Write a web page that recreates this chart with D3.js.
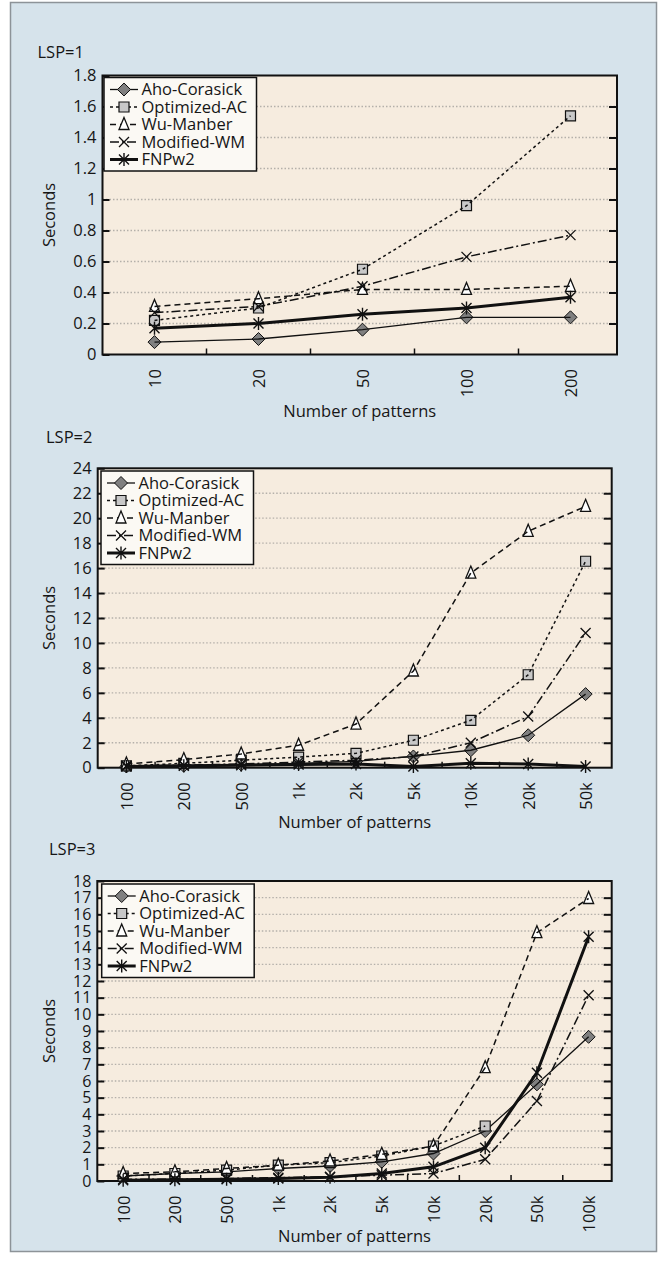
<!DOCTYPE html>
<html>
<head>
<meta charset="utf-8">
<script src="https://cdn.jsdelivr.net/npm/d3@7"></script>
<style>
body { margin: 0; background: #fff; }
text { font-family: "Open Sans", sans-serif; fill: #161616; }
</style>
</head>
<body>
<div id="chart"></div>
<script>
// data
const seriesNames = ['Aho-Corasick', 'Optimized-AC', 'Wu-Manber', 'Modified-WM', 'FNPw2'];

const lsp1Patterns = ['10', '20', '50', '100', '200'];
const lsp1Aho = [0.08, 0.10, 0.16, 0.24, 0.24];
const lsp1Opt = [0.22, 0.30, 0.55, 0.96, 1.54];
const lsp1Wu = [0.31, 0.36, 0.42, 0.42, 0.44];
const lsp1Mod = [0.27, 0.31, 0.44, 0.63, 0.77];
const lsp1Fnp = [0.17, 0.20, 0.26, 0.30, 0.37];

const lsp2Patterns = ['100', '200', '500', '1k', '2k', '5k', '10k', '20k', '50k'];
const lsp2Aho = [0.1, 0.15, 0.25, 0.35, 0.5, 0.9, 1.4, 2.6, 5.9];
const lsp2Opt = [0.15, 0.35, 0.6, 0.85, 1.15, 2.2, 3.8, 7.45, 16.55];
const lsp2Wu = [0.3, 0.65, 1.1, 1.8, 3.5, 7.75, 15.6, 18.95, 20.95];
const lsp2Mod = [0.15, 0.2, 0.3, 0.45, 0.6, 0.9, 2.0, 4.1, 10.8];
const lsp2Fnp = [0.1, 0.15, 0.2, 0.25, 0.3, 0.1, 0.35, 0.3, 0.1];

const lsp3Patterns = ['100', '200', '500', '1k', '2k', '5k', '10k', '20k', '50k', '100k'];
const lsp3Aho = [0.3, 0.45, 0.55, 0.75, 0.9, 1.15, 1.65, 3.0, 5.8, 8.65];
const lsp3Opt = [0.3, 0.45, 0.65, 0.95, 1.1, 1.5, 2.1, 3.3];
const lsp3Wu = [0.45, 0.55, 0.75, 0.95, 1.2, 1.6, 2.1, 6.8, 14.9, 16.95];
const lsp3Mod = [0.1, 0.1, 0.15, 0.2, 0.25, 0.35, 0.45, 1.3, 4.8, 11.15];
const lsp3Fnp = [0.05, 0.07, 0.1, 0.15, 0.22, 0.45, 0.85, 2.0, 6.5, 14.65];

const width = 669;
const height = 1262;

const svg = d3.select('div#chart').append('svg').attr('width', width).attr('height', height);

// outer panel
svg.append('rect')
    .attr('x', 10.5).attr('y', 2.5)
    .attr('width', 646).attr('height', 1249)
    .attr('fill', '#d6e3eb')
    .attr('stroke', '#8d9398')
    .attr('stroke-width', 1.5);

// line + marker style for each series
const styles = [
    { dash: null, lw: 1.3, marker: 'M0,-6.5L6.5,0L0,6.5L-6.5,0Z', fill: '#808080', mw: 1 },
    { dash: '3,3', lw: 1.5, marker: 'M-5,-5H5V5H-5Z', fill: '#c8c8c8', mw: 1.2 },
    { dash: '6,4', lw: 1.5, marker: 'M0,-7L5,5H-5Z', fill: '#fff', mw: 1.3 },
    { dash: '9,3,2,3', lw: 1.5, marker: 'M-5,-5L5,5M5,-5L-5,5', fill: 'none', mw: 1.3 },
    { dash: null, lw: 3, marker: 'M-5,-5L5,5M5,-5L-5,5M0,-6.5V6.5', fill: 'none', mw: 1.4 },
];

const fontSize = 16.5;

function drawPanel(cfg, categories, series) {
    const g = svg.append('g');
    const x = d3.scalePoint().domain(categories).range([cfg.left, cfg.xEnd]).padding(0.5);
    const y = d3.scaleLinear().domain([0, cfg.yMax]).range([cfg.bottom, cfg.top]);
    const ticks = y.ticks(cfg.nTicks);

    g.append('text').attr('x', cfg.titleX).attr('y', cfg.titleY)
        .attr('font-size', fontSize).text(cfg.title);

    g.append('rect')
        .attr('x', cfg.left).attr('y', cfg.top)
        .attr('width', cfg.right - cfg.left).attr('height', cfg.bottom - cfg.top)
        .attr('fill', '#f6ecdf');

    // dotted grid
    g.selectAll('.grid').data(ticks.filter(t => t > 0 && t < cfg.yMax)).enter()
        .append('line')
        .attr('x1', cfg.left).attr('x2', cfg.right)
        .attr('y1', d => y(d)).attr('y2', d => y(d))
        .attr('stroke', '#b4b0aa').attr('stroke-width', 1.3)
        .attr('stroke-dasharray', '1.5,2');

    // y axis left, inward ticks
    const yAxisG = g.append('g').attr('transform', `translate(${cfg.left},0)`)
        .call(d3.axisLeft(y).tickValues(ticks).tickSize(-7).tickSizeOuter(0).tickPadding(6)
            .tickFormat(d => String(+d.toFixed(1))));
    yAxisG.selectAll('text').attr('font-size', cfg.yFont).attr('font-family', '"Open Sans", sans-serif').attr('fill', '#161616');
    yAxisG.selectAll('line').attr('stroke', '#111').attr('stroke-width', 2);
    yAxisG.select('.domain').remove();

    // right side ticks
    const yRightG = g.append('g').attr('transform', `translate(${cfg.right},0)`)
        .call(d3.axisRight(y).tickValues(ticks.filter(t => t > 0 && t < cfg.yMax)).tickSize(-8).tickSizeOuter(0).tickFormat(''));
    yRightG.selectAll('line').attr('stroke', '#111').attr('stroke-width', 2);
    yRightG.select('.domain').remove();

    // bottom labels
    const xAxisG = g.append('g').attr('transform', `translate(0,${cfg.bottom})`)
        .call(d3.axisBottom(x).tickSize(0));
    xAxisG.select('.domain').remove();
    xAxisG.selectAll('text')
        .attr('transform', 'rotate(-90)')
        .attr('text-anchor', 'end')
        .attr('x', -14.5).attr('y', 0).attr('dy', '0.36em')
        .attr('font-size', fontSize).attr('font-family', '"Open Sans", sans-serif').attr('fill', '#161616');

    // ticks between categories
    const mids = categories.slice(1).map((c, i) => (x(categories[i]) + x(c)) / 2);
    g.selectAll('.xtick').data(mids).enter().append('line')
        .attr('x1', d => d).attr('x2', d => d)
        .attr('y1', cfg.bottom).attr('y2', cfg.bottom - 6)
        .attr('stroke', '#111').attr('stroke-width', 1.5);

    // frame
    g.append('rect')
        .attr('x', cfg.left).attr('y', cfg.top)
        .attr('width', cfg.right - cfg.left).attr('height', cfg.bottom - cfg.top)
        .attr('fill', 'none').attr('stroke', '#111').attr('stroke-width', 2);

    g.append('text')
        .attr('transform', `translate(55,${(cfg.top + cfg.bottom) / 2}) rotate(-90)`)
        .attr('text-anchor', 'middle').attr('font-size', fontSize).text('Seconds');
    g.append('text')
        .attr('x', (cfg.left + cfg.right) / 2).attr('y', cfg.xTitleY)
        .attr('text-anchor', 'middle').attr('font-size', fontSize).text('Number of patterns');

    // series
    series.forEach((values, i) => {
        const st = styles[i];
        const pts = values.map((v, j) => ({ c: categories[j], v: v }));
        const sg = g.append('g');
        sg.selectAll('path.mk').data(pts).enter().append('path')
            .attr('class', 'mk')
            .attr('transform', d => `translate(${x(d.c)},${y(d.v)})`)
            .attr('d', st.marker)
            .attr('fill', st.fill).attr('stroke', '#111').attr('stroke-width', st.mw);
        sg.append('path').datum(pts)
            .attr('d', d3.line().x(d => x(d.c)).y(d => y(d.v)))
            .attr('fill', 'none').attr('stroke', '#111')
            .attr('stroke-width', st.lw)
            .attr('stroke-dasharray', st.dash);
    });

    // legend
    const lg = g.append('g').attr('transform', `translate(${cfg.legX},${cfg.legY})`);
    lg.append('rect').attr('width', 152.5).attr('height', 93.5)
        .attr('fill', '#fbf9f4').attr('stroke', '#111').attr('stroke-width', 1.5);
    seriesNames.forEach((name, i) => {
        const st = styles[i];
        const ey = 12 + i * 17.5;
        lg.append('line').attr('x1', 6).attr('x2', 34).attr('y1', ey).attr('y2', ey)
            .attr('stroke', '#111').attr('stroke-width', st.lw)
            .attr('stroke-dasharray', st.dash);
        lg.append('path').attr('transform', `translate(20,${ey})`).attr('d', st.marker)
            .attr('fill', st.fill).attr('stroke', '#111').attr('stroke-width', st.mw);
        lg.append('text').attr('x', 37.5).attr('y', ey).attr('dy', '0.35em')
            .attr('font-size', fontSize).text(name);
    });
}

drawPanel(
    { title: 'LSP=1', titleX: 37.5, titleY: 57.5, left: 102.5, right: 617, xEnd: 622.5, top: 75.5, bottom: 354.5,
      yMax: 1.8, nTicks: 9, yFont: 16.5, xTitleY: 416.5, legX: 104, legY: 77.5 },
    lsp1Patterns, [lsp1Aho, lsp1Opt, lsp1Wu, lsp1Mod, lsp1Fnp]);

drawPanel(
    { title: 'LSP=2', titleX: 46, titleY: 442.5, left: 97.7, right: 611.7, xEnd: 614.3, top: 468.3, bottom: 767.7,
      yMax: 24, nTicks: 12, yFont: 16.5, xTitleY: 828, legX: 101, legY: 471 },
    lsp2Patterns, [lsp2Aho, lsp2Opt, lsp2Wu, lsp2Mod, lsp2Fnp]);

drawPanel(
    { title: 'LSP=3', titleX: 49, titleY: 855, left: 97.3, right: 611.7, xEnd: 614.5, top: 881, bottom: 1181,
      yMax: 18, nTicks: 18, yFont: 16, xTitleY: 1241.5, legX: 101.7, legY: 884 },
    lsp3Patterns, [lsp3Aho, lsp3Opt, lsp3Wu, lsp3Mod, lsp3Fnp]);
</script>
</body>
</html>
